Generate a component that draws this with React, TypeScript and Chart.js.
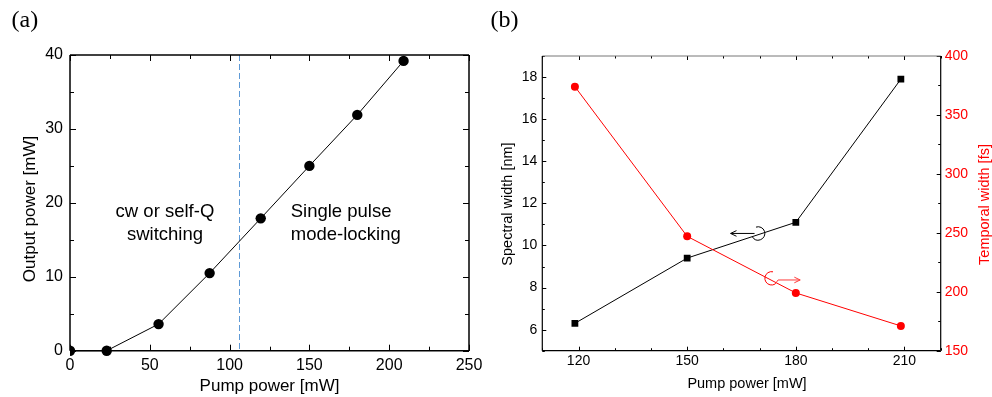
import React, { useEffect, useRef } from "react";
import { Chart, registerables } from "chart.js";

Chart.register(...registerables);

// ---------- Panel (a) data ----------
const pumpA = [0, 23, 55.5, 87.5, 119.5, 150, 180, 209];
const outputA = [0, 0, 3.6, 10.5, 17.9, 25.0, 31.9, 39.2];
const thresholdA = 106;
const xTicksA = [0, 50, 100, 150, 200, 250];
const yTicksA = [0, 10, 20, 30, 40];

// ---------- Panel (b) data ----------
const pumpB = [119, 150, 180, 209];
const spectralB = [6.3, 9.4, 11.1, 17.9];
const temporalB = [374, 247, 199, 171];
const xTicksB = [120, 150, 180, 210];
const yLeftTicksB = [6, 8, 10, 12, 14, 16, 18];
const yRightTicksB = [150, 200, 250, 300, 350, 400];

const SANS = '"Liberation Sans", Arial, sans-serif';
const SERIF = '"Liberation Serif", "Times New Roman", serif';

function range(a: number, b: number, step: number): number[] {
  const out: number[] = [];
  for (let v = a; v <= b + 1e-9; v += step) out.push(Math.round(v * 1000) / 1000);
  return out;
}

type TickSpec = { scale: string; side: "left" | "right" | "top" | "bottom"; major: number[]; minor: number[] };
type BorderSpec = { side: "left" | "right" | "top" | "bottom"; color: string; width: number };

function framePlugin(id: string, borders: BorderSpec[], ticks: TickSpec[], majorLen: number, minorLen: number, extra?: (chart: any) => void) {
  return {
    id,
    beforeDatasetsDraw(chart: any) {
      const { ctx, chartArea: a } = chart;
      ctx.save();
      if (extra) extra(chart);
      ctx.lineWidth = 1;
      ctx.strokeStyle = "#000";
      ctx.setLineDash([]);
      for (const t of ticks) {
        const s = chart.scales[t.scale];
        const draw = (v: number, len: number) => {
          const p = Math.round(s.getPixelForValue(v)) + 0.5;
          ctx.beginPath();
          if (t.side === "bottom") { ctx.moveTo(p, a.bottom); ctx.lineTo(p, a.bottom - len); }
          else if (t.side === "top") { ctx.moveTo(p, a.top); ctx.lineTo(p, a.top + len); }
          else if (t.side === "left") { ctx.moveTo(a.left, p); ctx.lineTo(a.left + len, p); }
          else { ctx.moveTo(a.right, p); ctx.lineTo(a.right - len, p); }
          ctx.stroke();
        };
        t.minor.forEach((v) => draw(v, minorLen));
        t.major.forEach((v) => draw(v, majorLen));
      }
      for (const b of borders) {
        ctx.strokeStyle = b.color;
        ctx.lineWidth = b.width;
        ctx.beginPath();
        if (b.side === "bottom") { ctx.moveTo(a.left, a.bottom); ctx.lineTo(a.right, a.bottom); }
        else if (b.side === "top") { ctx.moveTo(a.left, a.top); ctx.lineTo(a.right, a.top); }
        else if (b.side === "left") { ctx.moveTo(a.left, a.top); ctx.lineTo(a.left, a.bottom); }
        else { ctx.moveTo(a.right, a.top); ctx.lineTo(a.right, a.bottom); }
        ctx.stroke();
      }
      ctx.restore();
    },
  };
}

function text(ctx: any, str: string, x: number, y: number, font: string, color: string, align: string, rot = 0) {
  ctx.save();
  ctx.translate(x, y);
  ctx.rotate(rot);
  ctx.font = font;
  ctx.fillStyle = color;
  ctx.textAlign = align;
  ctx.textBaseline = "alphabetic";
  ctx.fillText(str, 0, 0);
  ctx.restore();
}

function arrow(ctx: any, x0: number, y0: number, x1: number, y1: number, color: string) {
  const ang = Math.atan2(y1 - y0, x1 - x0);
  const hl = 6.5, hw = 0.45;
  ctx.strokeStyle = color;
  ctx.lineWidth = 1;
  ctx.beginPath();
  ctx.moveTo(x0, y0);
  ctx.lineTo(x1, y1);
  ctx.moveTo(x1 - hl * Math.cos(ang - hw), y1 - hl * Math.sin(ang - hw));
  ctx.lineTo(x1, y1);
  ctx.lineTo(x1 - hl * Math.cos(ang + hw), y1 - hl * Math.sin(ang + hw));
  ctx.stroke();
}

const tickFontA = { family: SANS, size: 16 };
const tickFontB = { family: SANS, size: 14 };
const noGrid = { display: false, drawTicks: false, tickLength: 0 };

function ChartA() {
  const ref = useRef<HTMLCanvasElement>(null);
  useEffect(() => {
    if (!ref.current) return;
    const frame = framePlugin(
      "frameA",
      ["left", "right", "top", "bottom"].map((s) => ({ side: s as any, color: "#000", width: 1.5 })),
      [
        { scale: "x", side: "bottom", major: xTicksA, minor: range(0, 250, 25) },
        { scale: "x", side: "top", major: xTicksA, minor: range(0, 250, 25) },
        { scale: "y", side: "left", major: yTicksA, minor: range(0, 40, 5) },
        { scale: "y", side: "right", major: yTicksA, minor: range(0, 40, 5) },
      ],
      6,
      4,
      (chart: any) => {
        const { ctx, chartArea: a } = chart;
        const px = Math.round(chart.scales.x.getPixelForValue(thresholdA)) + 0.5;
        ctx.strokeStyle = "#5f9ad6";
        ctx.lineWidth = 1;
        ctx.setLineDash([6, 3]);
        ctx.beginPath();
        ctx.moveTo(px, a.top);
        ctx.lineTo(px, a.bottom);
        ctx.stroke();
        ctx.setLineDash([]);
      }
    );
    const overlay = {
      id: "overlayA",
      afterDraw(chart: any) {
        const { ctx, chartArea: a } = chart;
        const xs = chart.scales.x, ys = chart.scales.y;
        const f = `18.5px ${SANS}`;
        text(ctx, "cw or self-Q", xs.getPixelForValue(59.5), ys.getPixelForValue(18.1), f, "#000", "center");
        text(ctx, "switching", xs.getPixelForValue(59.5), ys.getPixelForValue(14.97), f, "#000", "center");
        text(ctx, "Single pulse", xs.getPixelForValue(138.3), ys.getPixelForValue(18.1), f, "#000", "left");
        text(ctx, "mode-locking", xs.getPixelForValue(138.3), ys.getPixelForValue(14.97), f, "#000", "left");
        text(ctx, "Pump power [mW]", (a.left + a.right) / 2, 390.5, `17px ${SANS}`, "#000", "center");
        text(ctx, "Output power [mW]", 35, 209, `17px ${SANS}`, "#000", "center", -Math.PI / 2);
        text(ctx, "(a)", 11.5, 27, `24px ${SERIF}`, "#000", "left");
      },
    };
    const chart = new Chart(ref.current, {
      type: "line",
      data: {
        datasets: [
          {
            data: pumpA.map((x, i) => ({ x, y: outputA[i] })),
            borderColor: "#000",
            borderWidth: 1,
            pointRadius: 5.2,
            pointBackgroundColor: "#000",
            pointBorderWidth: 0,
            clip: { left: 0, top: 10, right: 10, bottom: 10 } as any,
          },
        ],
      },
      options: {
        responsive: false,
        animation: false,
        devicePixelRatio: 1,
        layout: { padding: { top: 55, right: 21, left: 0, bottom: 0 } },
        plugins: { legend: { display: false }, tooltip: { enabled: false } },
        scales: {
          x: {
            type: "linear",
            min: 0,
            max: 250,
            grid: noGrid,
            border: { display: false },
            afterBuildTicks: (s: any) => { s.ticks = xTicksA.map((v) => ({ value: v })); },
            afterFit: (s: any) => { s.height = 46.3; },
            ticks: { font: tickFontA, color: "#000", padding: 5, maxRotation: 0, autoSkip: false },
          },
          y: {
            type: "linear",
            min: 0,
            max: 40,
            grid: noGrid,
            border: { display: false },
            afterBuildTicks: (s: any) => { s.ticks = yTicksA.map((v) => ({ value: v })); },
            afterFit: (s: any) => { s.width = 70; },
            ticks: { font: tickFontA, color: "#000", padding: 7 },
          },
        },
      },
      plugins: [frame, overlay],
    } as any);
    return () => chart.destroy();
  }, []);
  return <canvas ref={ref} width={490} height={397} style={{ position: "absolute", left: 0, top: 0, width: 490, height: 397 }} />;
}

function ChartB() {
  const ref = useRef<HTMLCanvasElement>(null);
  useEffect(() => {
    if (!ref.current) return;
    const frame = framePlugin(
      "frameB",
      [
        { side: "top", color: "#777", width: 1 },
        { side: "left", color: "#000", width: 1.2 },
        { side: "right", color: "#000", width: 1.2 },
        { side: "bottom", color: "#000", width: 1.2 },
      ],
      [
        { scale: "x", side: "bottom", major: xTicksB, minor: range(110, 220, 10) },
        { scale: "x", side: "top", major: xTicksB, minor: range(110, 220, 10) },
        { scale: "y", side: "left", major: yLeftTicksB, minor: range(5, 19, 1) },
        { scale: "y2", side: "right", major: yRightTicksB, minor: range(150, 400, 25) },
      ],
      4,
      2.5
    );
    const overlay = {
      id: "overlayB",
      afterDraw(chart: any) {
        const { ctx, chartArea: a } = chart;
        const xs = chart.scales.x, ys = chart.scales.y, y2 = chart.scales.y2;
        ctx.save();
        const bx = xs.getPixelForValue(169.6), by = ys.getPixelForValue(10.57);
        ctx.strokeStyle = "#000";
        ctx.lineWidth = 1;
        ctx.beginPath();
        ctx.arc(bx, by, 6.7, -1.9, 2.6, false);
        ctx.stroke();
        arrow(ctx, xs.getPixelForValue(168.6), by, xs.getPixelForValue(162.0), by, "#000");
        const rx = xs.getPixelForValue(173.3), ry = y2.getPixelForValue(211.4);
        ctx.strokeStyle = "#ff0000";
        ctx.beginPath();
        ctx.arc(rx, ry, 6.7, -1.35, 1.0, true);
        ctx.stroke();
        const ay = y2.getPixelForValue(210);
        ctx.strokeStyle = "#ff3b3b";
        ctx.beginPath();
        ctx.moveTo(rx + 6.7 * Math.cos(1.0), ry + 6.7 * Math.sin(1.0));
        ctx.lineTo(xs.getPixelForValue(175.1), ay);
        ctx.stroke();
        arrow(ctx, xs.getPixelForValue(175.1), ay, xs.getPixelForValue(181.2), ay, "#ff3b3b");
        ctx.restore();
        text(ctx, "Pump power [mW]", (a.left + a.right) / 2 + 5.5, 388.3, `14.5px ${SANS}`, "#000", "center");
        text(ctx, "Spectral width [nm]", 22.3, 204, `14.5px ${SANS}`, "#000", "center", -Math.PI / 2);
        text(ctx, "Temporal width [fs]", 498.7, 204.5, `14.5px ${SANS}`, "#ff0000", "center", -Math.PI / 2);
        text(ctx, "(b)", 0.5, 27, `24px ${SERIF}`, "#000", "left");
      },
    };
    const chart = new Chart(ref.current, {
      type: "line",
      data: {
        datasets: [
          {
            data: pumpB.map((x, i) => ({ x, y: temporalB[i] })),
            yAxisID: "y2",
            borderColor: "#ff0000",
            borderWidth: 1,
            pointRadius: 4,
            pointStyle: "circle",
            pointBackgroundColor: "#ff0000",
            pointBorderWidth: 0,
          },
          {
            data: pumpB.map((x, i) => ({ x, y: spectralB[i] })),
            yAxisID: "y",
            borderColor: "#000",
            borderWidth: 1,
            pointRadius: 4.8,
            pointStyle: "rect",
            pointBackgroundColor: "#000",
            pointBorderWidth: 0,
          },
        ],
      },
      options: {
        responsive: false,
        animation: false,
        devicePixelRatio: 1,
        layout: { padding: { top: 56, right: 0, left: 0, bottom: 0 } },
        plugins: { legend: { display: false }, tooltip: { enabled: false } },
        scales: {
          x: {
            type: "linear",
            min: 110,
            max: 220,
            grid: noGrid,
            border: { display: false },
            afterBuildTicks: (s: any) => { s.ticks = xTicksB.map((v) => ({ value: v })); },
            afterFit: (s: any) => { s.height = 46.3; },
            ticks: { font: tickFontB, color: "#000", padding: 2, maxRotation: 0, autoSkip: false },
          },
          y: {
            type: "linear",
            position: "left",
            min: 5,
            max: 19,
            grid: noGrid,
            border: { display: false },
            afterBuildTicks: (s: any) => { s.ticks = yLeftTicksB.map((v) => ({ value: v })); },
            afterFit: (s: any) => { s.width = 52.3; },
            ticks: { font: tickFontB, color: "#000", padding: 5 },
          },
          y2: {
            type: "linear",
            position: "right",
            min: 150,
            max: 400,
            grid: noGrid,
            border: { display: false },
            afterBuildTicks: (s: any) => { s.ticks = yRightTicksB.map((v) => ({ value: v })); },
            afterFit: (s: any) => { s.width = 51.3; },
            ticks: { font: tickFontB, color: "#ff0000", padding: 4 },
          },
        },
      },
      plugins: [frame, overlay],
    } as any);
    return () => chart.destroy();
  }, []);
  return <canvas ref={ref} width={502} height={397} style={{ position: "absolute", left: 490, top: 0, width: 502, height: 397 }} />;
}

export default function App() {
  return (
    <div style={{ position: "absolute", left: 0, top: 0, width: 992, height: 397, background: "#fff", overflow: "hidden" }}>
      <ChartA />
      <ChartB />
    </div>
  );
}
